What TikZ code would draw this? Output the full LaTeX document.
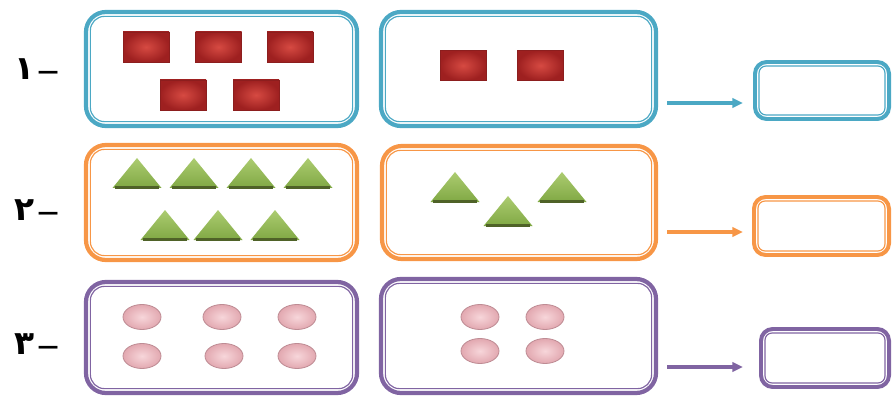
\documentclass[tikz,border=0pt]{standalone}
\usepackage{fontspec}
\newfontfamily\arabicfont[Script=Arabic]{DejaVu Sans}
\newfontfamily\dejafont{DejaVu Sans}
\usetikzlibrary{calc,shapes.geometric,arrows.meta}
\definecolor{cblue}{RGB}{75,168,196}
\definecolor{corange}{RGB}{247,150,70}
\definecolor{cpurple}{RGB}{128,100,162}
\definecolor{redin}{RGB}{214,74,66}
\definecolor{redout}{RGB}{158,32,32}
\definecolor{redline}{RGB}{140,30,30}
\definecolor{grtop}{RGB}{172,204,112}
\definecolor{grbot}{RGB}{128,168,68}
\definecolor{grdark}{RGB}{79,98,40}
\definecolor{pkin}{RGB}{247,214,218}
\definecolor{pkout}{RGB}{226,168,176}
\definecolor{pkline}{RGB}{190,140,148}
\newcommand{\labeldash}{\hspace{3pt}\raisebox{0.5pt}{\fontsize{18}{20}\selectfont\dejafont\bfseries —}}
\tikzset{
  bigbox/.style 2 args={draw=#1, line width=3.6pt, rounded corners=17pt,
    minimum width=#2, inner sep=0pt},
  smallbox/.style={draw=#1, line width=3.4pt, rounded corners=10pt, inner sep=0pt},
  innerline/.style={draw=#1, line width=1pt},
  redrect/.style={draw=redline, line width=0.5pt, inner color=redin, outer color=redout,
    minimum width=1.38cm, minimum height=0.9cm, inner sep=0pt},
  pinkegg/.style={ellipse, draw=pkline, line width=0.7pt, inner color=pkin, outer color=pkout,
    minimum width=1.14cm, minimum height=0.75cm, inner sep=0pt},
  tri/.pic={
    \shade[top color=grtop, bottom color=grbot] (0,0) -- (24.5,30) -- (-24.5,30) -- cycle;
    \draw[grdark, line width=2pt] (-22,29.5) -- (22,29.5);
  },
  arr/.style={draw=#1, line width=2.6pt, -{Triangle[length=9pt,width=8pt]}},
  lbl/.style={anchor=east, inner sep=0pt, font=\fontsize{28}{30}\selectfont}
}
\begin{document}
\begin{tikzpicture}[x=0.03cm,y=-0.03cm]
\useasboundingbox (0,0) rectangle (894,398);
% big boxes
\node[bigbox={cblue}{8.13cm}, minimum height=3.42cm] (b11) at (221.5,69) {};
\node[bigbox={cblue}{8.25cm}, minimum height=3.42cm] (b12) at (518.5,69) {};
\node[bigbox={corange}{8.13cm}, minimum height=3.45cm] (b21) at (221.5,202.5) {};
\node[bigbox={corange}{8.22cm}, minimum height=3.39cm] (b22) at (519,202.5) {};
\node[bigbox={cpurple}{8.13cm}, minimum height=3.33cm] (b31) at (221.5,337.5) {};
\node[bigbox={cpurple}{8.25cm}, minimum height=3.42cm] (b32) at (518.5,336) {};
% small boxes
\node[smallbox=cblue, minimum width=4.02cm, minimum height=1.71cm] (s1) at (822,90.5) {};
\node[smallbox=corange, minimum width=4.05cm, minimum height=1.74cm] (s2) at (821.5,226) {};
\node[smallbox=cpurple, minimum width=3.84cm, minimum height=1.74cm] (s3) at (825,358) {};
% inner lines
\foreach \n/\c in {b11/cblue,b12/cblue,b21/corange,b22/corange,b31/cpurple,b32/cpurple}{
  \draw[innerline=\c, rounded corners=12pt] ($(\n.south west)+(6.5,-6.5)$) rectangle ($(\n.north east)+(-6.5,6.5)$);
}
\foreach \n/\c in {s1/cblue,s2/corange,s3/cpurple}{
  \draw[innerline=\c, rounded corners=6pt] ($(\n.south west)+(6,-6)$) rectangle ($(\n.north east)+(-6,6)$);
}
% red rectangles
\node[redrect] (r1) at (146,47) {};
\node[redrect] (r2) at (218.5,47) {};
\node[redrect] (r3) at (290,47) {};
\node[redrect] (r4) at (183,95) {};
\node[redrect] (r5) at (256,95) {};
\node[redrect] (r6) at (463,65.5) {};
\node[redrect] (r7) at (540.5,65.5) {};
% triangles
\pic (t1) at (137,158) {tri};
\pic (t2) at (194,158) {tri};
\pic (t3) at (251,158) {tri};
\pic (t4) at (308,158) {tri};
\pic (t5) at (165,210) {tri};
\pic (t6) at (218,210) {tri};
\pic (t7) at (275,210) {tri};
\pic (t8) at (455,172) {tri};
\pic (t9) at (508,196) {tri};
\pic (t10) at (562,172) {tri};
% eggs
\node[pinkegg] (e1) at (142,317) {};
\node[pinkegg] (e2) at (222,317) {};
\node[pinkegg] (e3) at (297,317) {};
\node[pinkegg] (e4) at (142,356) {};
\node[pinkegg] (e5) at (224,356) {};
\node[pinkegg] (e6) at (297,356) {};
\node[pinkegg] (e7) at (480,317) {};
\node[pinkegg] (e8) at (545,317) {};
\node[pinkegg] (e9) at (480,351) {};
\node[pinkegg] (e10) at (545,351) {};
% arrows
\coordinate (a1s) at (667,103); \coordinate (a1e) at (743,103);
\coordinate (a2s) at (667,232); \coordinate (a2e) at (743,232);
\coordinate (a3s) at (667,367); \coordinate (a3e) at (743,367);
\draw[arr=cblue] (a1s) -- (a1e);
\draw[arr=corange] (a2s) -- (a2e);
\draw[arr=cpurple] (a3s) -- (a3e);
% labels
\node[lbl] (l1) at (59,69) {{\arabicfont\bfseries ١}\labeldash};
\node[lbl] (l2) at (59,210) {{\arabicfont\bfseries ٢}\labeldash};
\node[lbl] (l3) at (59,344) {{\arabicfont\bfseries ٣}\labeldash};
\end{tikzpicture}
\end{document}
